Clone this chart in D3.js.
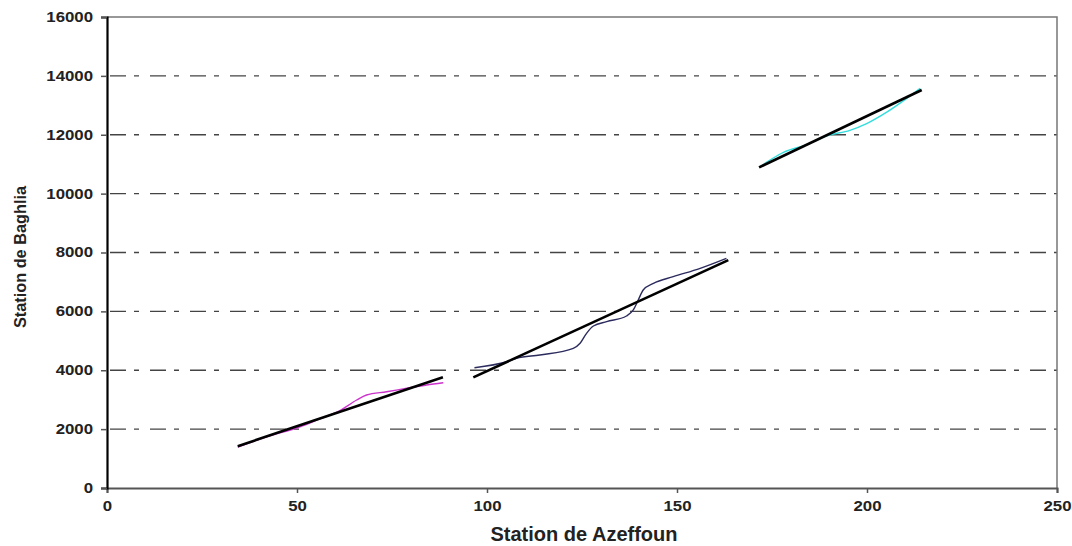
<!DOCTYPE html>
<html><head><meta charset="utf-8">
<script src="https://cdn.jsdelivr.net/npm/d3@7"></script>
<style>body{margin:0;background:#fff}svg{display:block}</style>
</head><body><svg id="c" width="1072" height="546"></svg>
<script>
const xTicks = [0, 50, 100, 150, 200, 250];
const yTicks = [0, 2000, 4000, 6000, 8000, 10000, 12000, 14000, 16000];
const xLabel = "Station de Azeffoun";
const yLabel = "Station de Baghlia";

// series 1 (magenta) observed curve
const s1x = [34.4, 42, 50.8, 56, 61.3, 65.7, 68.3, 73.6, 78.9, 84.1, 88.5];
const s1y = [1390, 1735, 2080, 2350, 2626, 2989, 3159, 3271, 3387, 3499, 3577];
// series 2 (navy)
const s2x = [96.7, 105.2, 107.8, 113.9, 122.7, 124.5, 126.2, 128, 131.5, 136.7, 138.5, 139.8, 141.1, 143.8, 149, 156.1, 163];
const s2y = [4087, 4290, 4405, 4518, 4745, 4915, 5255, 5503, 5650, 5843, 6047, 6386, 6726, 6953, 7178, 7463, 7802];
// series 3 (cyan)
const s3x = [171.8, 175, 178, 184.1, 189.4, 195.5, 199.9, 205.2, 214];
const s3y = [10910, 11180, 11400, 11660, 11960, 12150, 12380, 12770, 13578];
// regression lines (start/end)
const r1x = [34.4, 88.4], r1y = [1420, 3760];
const r2x = [96.4, 163.5], r2y = [3760, 7740];
const r3x = [171.6, 214.4], r3y = [10893, 13520];

const svg = d3.select("#c");
const m = {l: 107, r: 1057, t: 17, b: 488};
const x = d3.scaleLinear().domain([0, 250]).range([m.l, m.r]);
const y = d3.scaleLinear().domain([0, 16000]).range([m.b, m.t]);

// gridlines
svg.append("g").selectAll("line").data(yTicks.filter(d => d > 0 && d < 16000)).join("line")
  .attr("x1", m.l + 3).attr("x2", m.r).attr("y1", d => y(d)).attr("y2", d => y(d))
  .attr("stroke", "#444").attr("stroke-width", 1.4).attr("stroke-dasharray", "16,8,5,11");

// frame top/right
svg.append("path").attr("d", `M${m.l},${m.t}H${m.r}V${m.b}`).attr("fill", "none")
  .attr("stroke", "#777").attr("stroke-width", 1.5);

const font = "'Liberation Sans', Arial, sans-serif";
function stretch(sel) {
  sel.attr("font-family", font).attr("font-size", 14).attr("font-weight", "bold").attr("fill", "#222")
    .each(function() { const w = this.getComputedTextLength(); d3.select(this).attr("textLength", w * 1.2).attr("lengthAdjust", "spacingAndGlyphs"); });
}
// x axis
const xa = svg.append("g").attr("transform", `translate(0,${m.b})`)
  .call(d3.axisBottom(x).tickValues(xTicks).tickSize(5).tickPadding(8).tickFormat(d3.format("d")));
xa.select(".domain").attr("stroke", "#555").attr("stroke-width", 2);
xa.selectAll(".tick line").attr("stroke", "#555").attr("stroke-width", 1.5);
xa.selectAll("text").call(stretch);

// y axis
const ya = svg.append("g").attr("transform", `translate(${m.l},0)`)
  .call(d3.axisLeft(y).tickValues(yTicks).tickSize(6).tickPadding(8).tickFormat(d3.format("d")));
ya.select(".domain").attr("stroke", "#000").attr("stroke-width", 2.2);
ya.selectAll(".tick line").attr("stroke", "#555").attr("stroke-width", 1.5);
ya.selectAll("text").call(stretch);

const line = d3.line().x(d => x(d[0])).y(d => y(d[1]));
const smooth = d3.line().x(d => x(d[0])).y(d => y(d[1])).curve(d3.curveMonotoneX);
const zip = (a, b) => a.map((v, i) => [v, b[i]]);

[[s1x, s1y, "#cc33cc"], [s2x, s2y, "#2b2b5e"], [s3x, s3y, "#33dddd"]].forEach(([a, b, c]) => {
  svg.append("path").attr("d", smooth(zip(a, b))).attr("fill", "none").attr("stroke", c).attr("stroke-width", 1.4);
});
[[r1x, r1y], [r2x, r2y], [r3x, r3y]].forEach(([a, b]) => {
  svg.append("path").attr("d", line(zip(a, b))).attr("fill", "none").attr("stroke", "#000").attr("stroke-width", 2.6);
});

svg.append("text").attr("x", 584).attr("y", 541).attr("text-anchor", "middle")
  .attr("font-family", font).attr("font-size", 20).attr("font-weight", "bold").attr("fill", "#222").text(xLabel);
svg.append("text").attr("transform", "translate(26,257) rotate(-90)").attr("text-anchor", "middle")
  .attr("font-family", font).attr("font-size", 16.3).attr("font-weight", "bold").attr("fill", "#222").text(yLabel);
</script></body></html>
